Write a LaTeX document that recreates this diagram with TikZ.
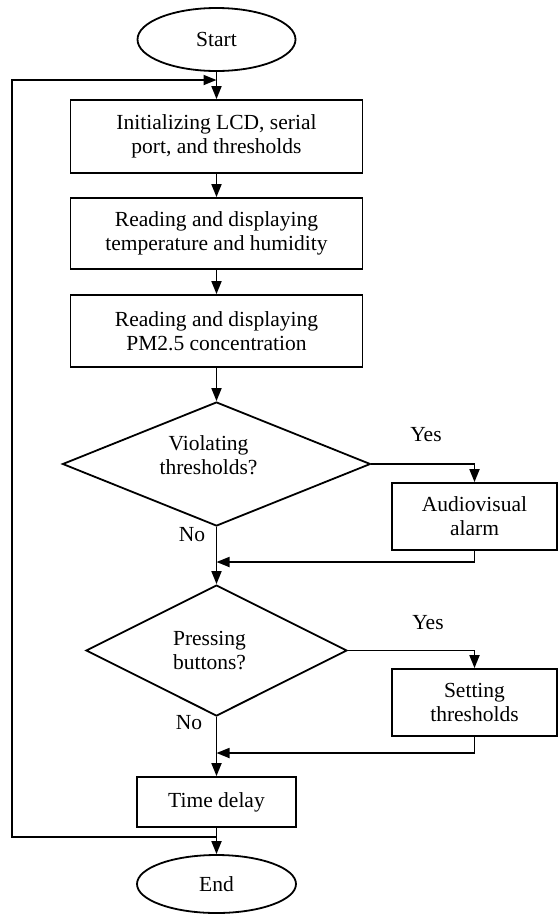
\documentclass[tikz,border=0pt]{standalone}
\usepackage{fontspec}
\setmainfont{Liberation Serif}
\usetikzlibrary{shapes.geometric,arrows.meta}
\begin{document}
\begin{tikzpicture}[x=1pt,y=-1pt,
  every node/.style={font=\fontsize{21.5}{24}\selectfont},
  term/.style={draw,ellipse,inner sep=0pt,line width=1.8pt},
  procbox/.style={draw,rectangle,inner sep=0pt,align=center,line width=1.8pt},
  decis/.style={draw,diamond,inner sep=0pt,align=center,line width=1.8pt},
  lbl/.style={inner sep=0pt},
  conn/.style={line width=1.8pt,-{Triangle[length=13pt,width=10pt]}}]
\useasboundingbox (0,0) rectangle (559,914);
\node[term,minimum width=158pt,minimum height=63pt] (start) at (216.5,39.5) {Start};
\node[procbox,minimum width=292pt,minimum height=73pt] (b1) at (216.5,136.5) {Initializing LCD, serial\\port, and thresholds};
\node[procbox,minimum width=292pt,minimum height=71pt] (b2) at (216.5,233.5) {Reading and displaying\\temperature and humidity};
\node[procbox,minimum width=292pt,minimum height=72pt] (b3) at (216.5,331) {Reading and displaying\\PM2.5 concentration};
\node[decis,minimum width=308pt,minimum height=124pt,aspect=2.48] (d1) at (216.5,464) {\hspace*{-16pt}Violating\\\hspace*{-16pt}thresholds?\\[-6pt]};
\node[procbox,minimum width=165pt,minimum height=67pt] (alarm) at (474.5,516.5) {Audiovisual\\alarm};
\node[decis,minimum width=261pt,minimum height=131pt,aspect=2] (d2) at (216.5,650.5) {\hspace*{-14pt}Pressing\\\hspace*{-14pt}buttons?};
\node[procbox,minimum width=165pt,minimum height=67pt] (set) at (474.5,702.5) {Setting\\thresholds};
\node[procbox,minimum width=159pt,minimum height=50pt] (delay) at (216.5,802) {Time delay};
\node[term,minimum width=159pt,minimum height=58pt] (end) at (216.5,884) {End};
\node[lbl] (y1) at (426,435) {Yes};
\node[lbl] (n1) at (192,535) {No};
\node[lbl] (y2) at (428,623) {Yes};
\node[lbl] (n2) at (189,723) {No};
\coordinate (m1) at (216.5,562);
\coordinate (m2) at (216.5,753);
\coordinate (lb) at (216.5,837);
\coordinate (lc) at (12,837);
\coordinate (lt) at (12,80);
\coordinate (mt) at (216.5,80);
\draw[conn] (start) -- (b1);
\draw[conn] (b1) -- (b2);
\draw[conn] (b2) -- (b3);
\draw[conn] (b3) -- (d1);
\draw[conn] (d1.east) -| (alarm.north);
\draw[conn] (alarm.south) |- (m1);
\draw[conn] (d1.south) -- (d2.north);
\draw[conn] (d2.east) -| (set.north);
\draw[conn] (set.south) |- (m2);
\draw[conn] (d2.south) -- (delay.north);
\draw[conn] (delay) -- (end);
\draw[conn] (lb) -- (lc) -- (lt) -- (mt);
\end{tikzpicture}
\end{document}
